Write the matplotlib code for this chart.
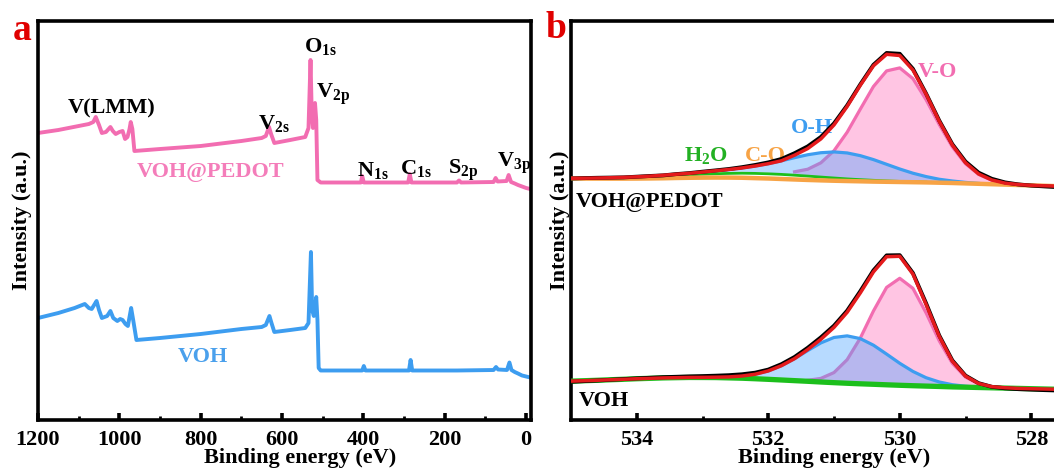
import matplotlib.pyplot as plt
import numpy as np

plt.rcParams['font.family'] = ['Liberation Serif', 'DejaVu Serif']
plt.rcParams['font.weight'] = 'bold'
plt.rcParams['axes.labelweight'] = 'bold'
plt.rcParams['mathtext.fontset'] = 'custom'
plt.rcParams['mathtext.rm'] = 'Liberation Serif:bold'
plt.rcParams['mathtext.it'] = 'Liberation Serif:bold:italic'
plt.rcParams['mathtext.bf'] = 'Liberation Serif:bold'
plt.rcParams['mathtext.default'] = 'rm'

# ---- (a) survey spectra, binding energy (eV) vs intensity (a.u.)
pedot_be = [1200, 1150, 1100, 1075, 1064, 1058, 1050, 1043, 1033, 1022, 1016, 1009, 1000,
            992, 986, 980, 975, 972, 968, 963, 900, 800, 700, 650, 640, 632, 627, 619, 580,
            543, 535, 530, 527, 524, 521, 519, 516, 514.5, 513, 505, 450, 406, 403, 399, 290,
            286, 282, 170, 165, 160, 80, 75, 70, 48, 43, 37, 28, 20, 10, 0, -10]
pedot_int = [287, 290, 294, 296, 298, 303, 295, 287, 288, 293, 289, 286, 288,
             289, 281, 283, 291, 298, 291, 269, 271, 274, 279, 282, 284, 293, 286, 277, 280,
             283, 292, 360, 306, 292, 302, 317, 300, 270, 240, 237.5, 237.5, 237.5, 244, 237.5, 237.5,
             246, 237.5, 237.5, 239.5, 237.5, 238, 242, 238.5, 239, 245, 238, 236.5, 235, 233.5, 232, 231]

voh_be = [1200, 1150, 1110, 1085, 1075, 1068, 1062, 1056, 1050, 1043, 1030, 1022, 1015,
          1005, 998, 992, 985, 979, 975, 971, 966, 958, 900, 800, 700, 650, 640, 631, 626,
          619, 580, 543, 535, 529, 526, 522, 519, 516, 513, 510, 505, 403, 399, 395, 288,
          284, 280, 170, 80, 74, 69, 47, 41, 36, 28, 20, 10, 0, -10]
voh_int = [102, 107, 112, 116, 112, 111, 115, 119, 110, 102, 104, 109, 102,
           99, 101, 100, 96, 94, 103, 112, 100, 80, 82, 86, 91, 93, 95, 104, 97,
           88, 90, 92, 97, 168, 110, 104, 112, 123, 100, 52, 49.5, 49.5, 54, 49.5, 49.5,
           60, 49.5, 49.5, 50, 53, 50.5, 50, 57.5, 50, 48, 46.5, 44.5, 43.5, 42.5]

survey_peaks = ['V(LMM)', 'V$_{2s}$', 'O$_{1s}$', 'V$_{2p}$', 'N$_{1s}$', 'C$_{1s}$', 'S$_{2p}$', 'V$_{3p}$']
peak_label_x = [1020, 658, 546, 517, 416, 310, 191, 72]
peak_label_y = [307, 291, 368, 322, 244, 246, 246, 253]

# ---- (b) O 1s high resolution, fitted components on a 0.2 eV grid
o1s_be = np.linspace(535.0, 527.4, 39)

pedot_base = [241.5, 241.4, 241.3, 241.2, 241.1, 241.0, 240.9, 240.8, 240.8, 240.7, 240.6, 240.5, 240.4,
              240.3, 240.1, 240.0, 239.8, 239.6, 239.4, 239.2, 239.0, 238.8, 238.6, 238.4, 238.2, 238.0,
              237.8, 237.6, 237.3, 237.0, 236.6, 236.2, 235.8, 235.4, 235.0, 234.6, 234.2, 233.8, 233.4]
pedot_vo = [0, 0, 0, 0, 0, 0, 0, 0, 0, 0, 0, 0, 0, 0, 0, 0, 0, 2.5, 6.2, 13.8, 27.0, 46.5, 70.4,
            93.8, 110.0, 113.5, 103.2, 82.5, 58.1, 36.0, 19.7, 9.4, 4.0, 1.5, 0.5, 0, 0, 0, 0]
pedot_oh = [0, 0, 0, 0, 0, 0, 0, 0, 0, 0, 0.4, 1.0, 1.9, 3.3, 5.6, 8.6, 12.4, 16.6, 20.7, 23.9, 25.8,
            25.8, 23.9, 20.7, 16.6, 12.4, 8.6, 5.6, 3.3, 1.9, 1.0, 0.4, 0.2, 0, 0, 0, 0, 0, 0]
pedot_h2o = [0.24, 0.4, 0.6, 0.9, 1.3, 1.75, 2.3, 3.0, 3.75, 4.5, 5.2, 5.8, 6.2, 6.5, 6.5, 6.2, 5.8,
             5.2, 4.5, 3.75, 3.0, 2.3, 1.75, 1.3, 0.9, 0.6, 0.4, 0.24, 0.15, 0.1, 0, 0, 0, 0, 0, 0, 0, 0, 0]
pedot_co = [0, 0, 0.09, 0.16, 0.27, 0.43, 0.65, 0.92, 1.21, 1.51, 1.76, 1.94, 2.0, 1.94, 1.76, 1.51,
            1.21, 0.92, 0.65, 0.43, 0.27, 0.16, 0.09, 0, 0, 0, 0, 0, 0, 0, 0, 0, 0, 0, 0, 0, 0, 0, 0]
pedot_raw = [241.5, 241.9, 242.2, 242.4, 242.6, 243.3, 244.0, 244.6, 245.9, 246.9, 248.3, 249.6, 251.0,
             252.8, 255.0, 257.6, 261.0, 266.8, 273.6, 283.0, 296.6, 314.6, 335.6, 355.2, 367.0, 366.2,
             351.2, 326.5, 299.5, 275.8, 258.4, 247.3, 241.2, 237.6, 235.6, 234.4, 233.6, 232.9, 232.2]

voh_base = [37.0, 37.0, 36.9, 36.9, 36.8, 36.8, 36.7, 36.7, 36.6, 36.6, 36.5, 36.5, 36.4, 36.4, 36.3,
            36.2, 36.1, 36.0, 35.9, 35.7, 35.5, 35.3, 35.1, 34.9, 34.6, 34.3, 34.0, 33.7, 33.4, 33.1,
            32.8, 32.5, 32.2, 31.9, 31.6, 31.3, 31.0, 30.7, 30.4]
voh_vo = [0, 0, 0, 0, 0, 0, 0, 0, 0, 0, 0, 0, 0, 0, 0, 0, 0, 0, 1.0, 3.6, 10.1, 23.6, 45.7, 73.3, 97.4,
          107, 97.4, 73.3, 45.7, 23.6, 10.1, 3.6, 1.0, 0.3, 0, 0, 0, 0, 0]
voh_oh = [0, 0, 0, 0, 0, 0, 0, 0, 0, 0.05, 0.14, 0.39, 0.97, 2.18, 4.5, 8.4, 14.3, 22.0, 30.7, 39.1,
          45.2, 47.4, 45.2, 39.1, 30.7, 22.0, 14.3, 8.4, 4.5, 2.18, 0.97, 0.39, 0.14, 0.05, 0, 0, 0, 0, 0]
voh_h2o = [1.84, 2.29, 2.81, 3.36, 3.92, 4.47, 4.96, 5.39, 5.72, 5.93, 6.0, 5.93, 5.72, 5.39, 4.96,
           4.47, 3.92, 3.36, 2.81, 2.29, 1.84, 1.43, 1.09, 0.81, 0.59, 0.41, 0.29, 0.2, 0.13, 0, 0, 0,
           0, 0, 0, 0, 0, 0, 0]
voh_co = [0] * 39
voh_raw = [38.2, 38.9, 39.5, 40.2, 40.9, 41.6, 42.2, 42.8, 43.2, 43.6, 43.9, 44.3, 44.8, 45.7, 47.3,
           50.4, 55.8, 63.0, 72.2, 82.6, 94.3, 109.3, 128.8, 149.6, 164.6, 164.8, 147.0, 116.8, 84.6,
           59.6, 44.4, 36.8, 33.2, 31.7, 30.9, 30.4, 29.9, 29.5, 29.1]

PINK = '#f26db1'
BLUE = '#3d9df0'
GREEN = '#1cbf1c'
ORANGE = '#f7a345'
RED = '#e41a1c'

W, H = 1054, 468
fig = plt.figure(figsize=(W / 100, H / 100), dpi=100)
ax_a = fig.add_axes([38 / W, 1 - 420 / H, (531 - 38) / W, 399 / H])
ax_b = fig.add_axes([571 / W, 1 - 420 / H, (1097 - 571) / W, 399 / H])

# ---------- panel a
ax_a.plot(pedot_be, pedot_int, color=PINK, lw=2.8)
ax_a.plot(voh_be, voh_int, color=BLUE, lw=2.8)
for s, x, y in zip(survey_peaks, peak_label_x, peak_label_y):
    ax_a.text(x, y, s, fontsize=16, ha='left' if s != 'V(LMM)' else 'center', va='baseline')
ax_a.text(776, 248, 'VOH@PEDOT', color='#f47dba', fontsize=16, ha='center', va='center')
ax_a.text(795, 63.5, 'VOH', color='#4aa0ec', fontsize=16, ha='center', va='center')
ax_a.set_xlim(1200, -12)
ax_a.set_ylim(0, 399)
ax_a.set_xticks([1200, 1000, 800, 600, 400, 200, 0])
ax_a.set_xticks(np.arange(1100, 0, -200), minor=True)
ax_a.set_yticks([])
ax_a.set_xlabel('Binding energy (eV)', fontsize=16, labelpad=-1)
ax_a.xaxis.label.set_x(0.532)
ax_a.set_ylabel('Intensity (a.u.)', fontsize=16, labelpad=4)

# ---------- panel b
spectra = [
    (pedot_base, pedot_vo, pedot_oh, pedot_h2o, pedot_co, pedot_raw),
    (voh_base, voh_vo, voh_oh, voh_h2o, voh_co, voh_raw),
]
for k, (base, vo, oh, h2o, co, raw) in enumerate(spectra):
    base, vo, oh = np.array(base), np.array(vo), np.array(oh)
    h2o, co = np.array(h2o), np.array(co)
    bg = base + h2o + co
    fit = bg + vo + oh
    ax_b.fill_between(o1s_be, bg, bg + vo, where=vo > 0, color='#ff8cc8', alpha=0.5, lw=0, zorder=1)
    ax_b.plot(o1s_be, np.where(vo > 0, bg + vo, np.nan), color=PINK, lw=2.3, zorder=2)
    ax_b.fill_between(o1s_be, bg, bg + oh, where=oh > 0, color='#4da3ff', alpha=0.4, lw=0, zorder=3)
    ax_b.plot(o1s_be, np.where(oh > 0.3, bg + oh, np.nan), color=BLUE, lw=2.3, zorder=3.5)
    if k == 0:
        ax_b.plot(o1s_be, np.where(h2o > 0.2, base + h2o, np.nan), color=GREEN, lw=2.0, zorder=4)
        ax_b.plot(o1s_be, base + co, color=ORANGE, lw=3.2, zorder=4.5)
    else:
        ax_b.plot(o1s_be, base + h2o, color=GREEN, lw=3.8, zorder=4)
    ax_b.plot(o1s_be, raw, color='black', lw=2.8, zorder=5)
    ax_b.plot(o1s_be, fit, color=RED, lw=2.5, zorder=6)

ax_b.text(534.93, 213.5, 'VOH@PEDOT', fontsize=16, ha='left', va='baseline')
ax_b.text(534.88, 14.5, 'VOH', fontsize=16, ha='left', va='baseline')
ax_b.text(533.28, 259.3, 'H$_2$O', color='#22b022', fontsize=16, ha='left', va='baseline')
ax_b.text(532.36, 259.3, 'C-O', color=ORANGE, fontsize=16, ha='left', va='baseline')
ax_b.text(531.65, 286.7, 'O-H', color=BLUE, fontsize=16, ha='left', va='baseline')
ax_b.text(529.72, 343.3, 'V-O', color=PINK, fontsize=16, ha='left', va='baseline')
ax_b.set_xlim(535, 527)
ax_b.set_ylim(0, 399)
ax_b.set_xticks([534, 532, 530, 528])
ax_b.set_xticks([533, 531, 529], minor=True)
ax_b.set_yticks([])
ax_b.set_xlabel('Binding energy (eV)', fontsize=16, labelpad=-1)
ax_b.set_ylabel('Intensity (a.u.)', fontsize=16, labelpad=1)

for ax in (ax_a, ax_b):
    for sp in ax.spines.values():
        sp.set_linewidth(2.6)
    ax.tick_params(axis='x', which='major', direction='in', length=5, width=2.6,
                   labelsize=16, pad=7, top=False)
    ax.tick_params(axis='x', which='minor', direction='in', length=3, width=2, top=False)

fig.text(13 / W, 1 - 39.6 / H, 'a', color='#e00000', fontsize=27, ha='left', va='baseline')
fig.text(545 / W, 1 - 38 / H, 'b', color='#e00000', fontsize=27, ha='left', va='baseline')

fig.savefig('out.png', dpi=100)
